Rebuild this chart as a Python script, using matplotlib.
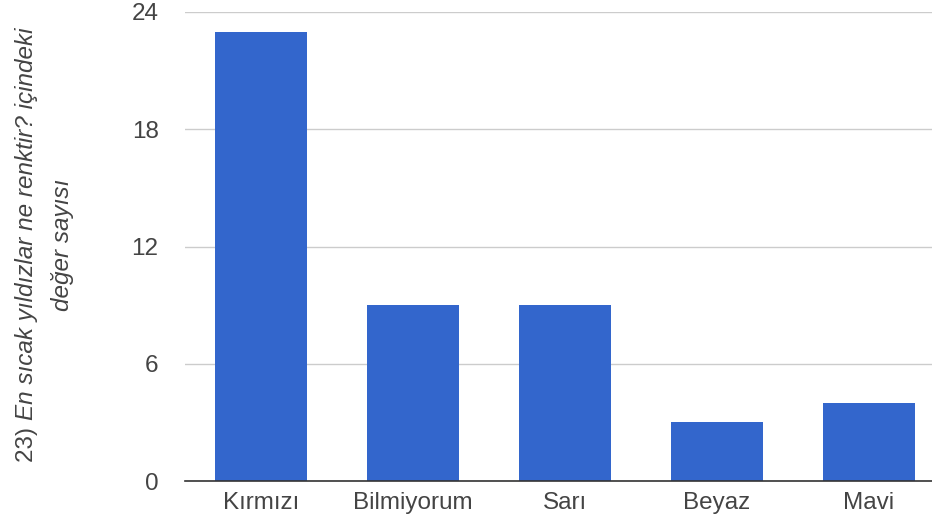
import matplotlib
matplotlib.use("Agg")
import matplotlib.pyplot as plt

# values
categories = ["Kırmızı", "Bilmiyorum", "Sarı", "Beyaz", "Mavi"]
counts = [23, 9, 9, 3, 4]
yticks = [0, 6, 12, 18, 24]

plt.rcParams['font.family'] = ['Liberation Sans', 'DejaVu Sans']

fig = plt.figure(figsize=(9.32, 5.26), dpi=100)
ax = fig.add_axes([185 / 932, 1 - 481 / 526, 1 - 185 / 932, (481 - 12) / 526])

x = range(len(categories))
ax.bar(x, counts, width=0.6, color="#3366cc", zorder=3)

ax.set_ylim(0, 24)
ax.set_xlim(-0.5, 4.5 - 13 / 152)
ax.set_yticks(yticks)
ax.set_yticklabels([str(t) for t in yticks])
ax.set_xticks(list(x))
ax.set_xticklabels(categories)

ax.grid(axis="y", color="#cccccc", linewidth=1, zorder=0)
for s in ["top", "right", "left"]:
    ax.spines[s].set_visible(False)
ax.spines["bottom"].set_color("#333333")
ax.spines["bottom"].set_linewidth(1.2)
ax.spines["bottom"].set_zorder(4)
ax.tick_params(axis="both", length=0, labelsize=17.5, labelcolor="#444444")
ax.tick_params(axis="y", pad=19)
ax.tick_params(axis="x", pad=8)

# y axis title: "23) " upright, the rest italic, on two lines
fs = 17.5
t1 = fig.text(27 / 932, 1 - 245 / 526, "En sıcak yıldızlar ne renktir? içindeki",
              rotation=90, ha="center", va="center", fontsize=fs,
              style="italic", color="#444444")
fig.text(62 / 932, 1 - 245 / 526, "değer sayısı", rotation=90, ha="center",
         va="center", fontsize=fs, style="italic", color="#444444")
fig.canvas.draw()
bb = t1.get_window_extent().transformed(fig.transFigure.inverted())
t0 = fig.text(27 / 932, 1 - 245 / 526, "23) ", rotation=90, ha="center",
              va="center", fontsize=fs, color="#444444")
bb0 = t0.get_window_extent().transformed(fig.transFigure.inverted())
h0 = bb0.height
# shift the whole line so the pair is centred
shift = h0 / 2
t1.set_y(t1.get_position()[1] + shift)
t0.set_y(bb.y0 + shift - h0 / 2)

fig.savefig("out.png", dpi=100)
